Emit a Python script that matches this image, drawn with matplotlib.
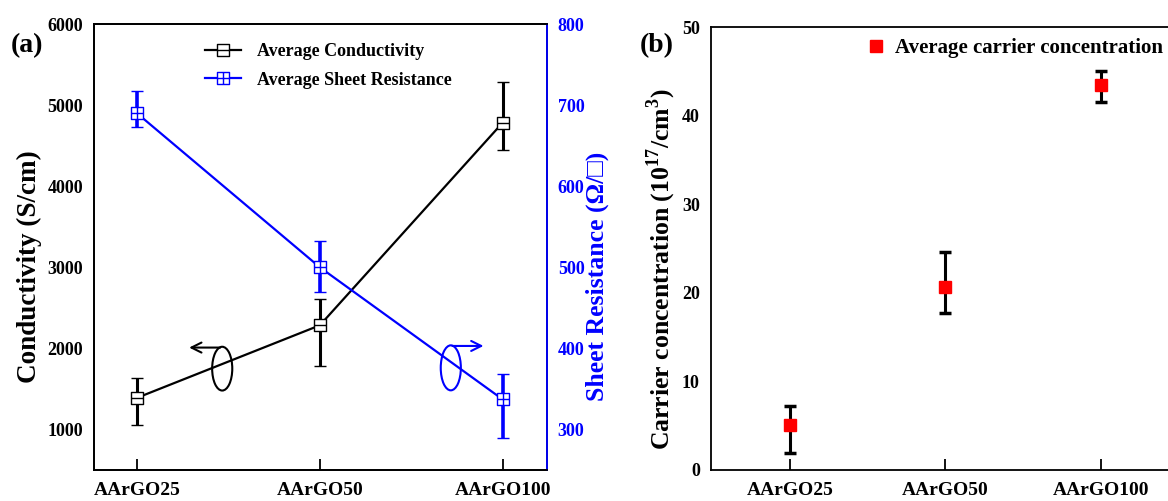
import matplotlib
matplotlib.use('Agg')
import matplotlib.pyplot as plt
from matplotlib.path import Path
from matplotlib.patches import Ellipse
from matplotlib.lines import Line2D

plt.rcParams['font.family'] = ['Liberation Serif', 'DejaVu Serif']
plt.rcParams['font.weight'] = 'bold'
plt.rcParams['mathtext.fontset'] = 'custom'
plt.rcParams['mathtext.rm'] = 'Liberation Serif:bold'
plt.rcParams['mathtext.bf'] = 'Liberation Serif:bold'

# Donnees
samples = ['AArGO25', 'AArGO50', 'AArGO100']
conductivity = [1390, 2285, 4785]
cond_upper = [1630, 2605, 5280]
cond_lower = [1060, 1785, 4450]
sheet_res = [690, 500, 337]
res_upper = [717, 533, 369]
res_lower = [673, 469, 290]
carrier = [5.1, 20.7, 43.5]
carrier_upper = [7.2, 24.6, 45.0]
carrier_lower = [1.9, 17.7, 41.6]

x = list(range(len(samples)))
blue = '#0000ff'

# marqueurs type Origin : carre avec trait / carre avec croix
sq_h = Path([(-1, -1), (1, -1), (1, 1), (-1, 1), (-1, -1), (-1, 0), (1, 0)],
            [Path.MOVETO, Path.LINETO, Path.LINETO, Path.LINETO, Path.CLOSEPOLY,
             Path.MOVETO, Path.LINETO])
sq_plus = Path([(-1, -1), (1, -1), (1, 1), (-1, 1), (-1, -1), (-1, 0), (1, 0), (0, -1), (0, 1)],
               [Path.MOVETO, Path.LINETO, Path.LINETO, Path.LINETO, Path.CLOSEPOLY,
                Path.MOVETO, Path.LINETO, Path.MOVETO, Path.LINETO])

fig = plt.figure(figsize=(11.68, 5.01), dpi=100)
ax1 = fig.add_axes([0.0805, 0.0619, 0.3875, 0.890])
ax2 = ax1.twinx()
ax3 = fig.add_axes([0.6087, 0.0619, 0.4016, 0.884])

# (a) conductivite
err_c = [[c - l for c, l in zip(conductivity, cond_lower)],
         [u - c for c, u in zip(conductivity, cond_upper)]]
ax1.errorbar(x, conductivity, yerr=err_c, color='black', lw=1.6, elinewidth=2.2,
             capsize=4, capthick=2.5, marker=sq_h, ms=8.5, mfc='white', mec='black',
             mew=1.0, zorder=3)
ax1.set_xlim(-0.235, 2.24)
ax1.set_ylim(500, 6000)
ax1.set_yticks([1000, 2000, 3000, 4000, 5000, 6000])
ax1.set_xticks(x)
ax1.set_xticklabels(samples)
ax1.set_ylabel('Conductivity (S/cm)', fontsize=19.5, fontweight='bold', va='center', ha='center')
ax1.yaxis.set_label_coords(-0.142, 0.457)

# (a) resistance carree
err_r = [[r - l for r, l in zip(sheet_res, res_lower)],
         [u - r for r, u in zip(sheet_res, res_upper)]]
ax2.errorbar(x, sheet_res, yerr=err_r, color=blue, lw=1.6, elinewidth=2.6,
             capsize=4, capthick=3, marker=sq_plus, ms=8.5, mfc='white', mec=blue,
             mew=1.0, zorder=3)
ax2.set_ylim(250, 800)
ax2.set_yticks([300, 400, 500, 600, 700, 800])
ax2.set_ylabel('Sheet Resistance (Ω/□)', fontsize=18.5, fontweight='bold', color=blue,
               rotation=90, va='center', ha='center')
ax2.yaxis.set_label_coords(1.112, 0.435)

for a in (ax1, ax2, ax3):
    for s in a.spines.values():
        s.set_linewidth(1.3)
ax2.spines['right'].set_color(blue)
ax1.tick_params(axis='y', length=0, labelsize=13, pad=8)
ax2.tick_params(axis='y', length=0, labelsize=13, pad=8, labelcolor=blue)
ax1.tick_params(axis='x', direction='in', length=8, width=1.3, labelsize=14, pad=9)

# fleches + ellipses
ax1.add_patch(Ellipse((0.466, 1750), 0.11, 540, fill=False, ec='black', lw=1.5, zorder=4))
ax1.annotate('', xy=(0.27, 2010), xytext=(0.47, 2010),
             arrowprops=dict(arrowstyle='->', color='black', lw=1.5, mutation_scale=18))
ax1.add_patch(Ellipse((1.716, 1760), 0.11, 555, fill=False, ec=blue, lw=1.5, zorder=4))
ax1.annotate('', xy=(1.91, 2030), xytext=(1.71, 2030),
             arrowprops=dict(arrowstyle='->', color=blue, lw=1.5, mutation_scale=18))

handles = [Line2D([], [], color='black', lw=1.6, marker=sq_h, ms=8.5, mfc='white', mec='black', mew=1.0),
           Line2D([], [], color=blue, lw=1.6, marker=sq_plus, ms=8.5, mfc='white', mec=blue, mew=1.0)]
ax1.legend(handles, ['Average Conductivity', 'Average Sheet Resistance'], loc='upper left',
           bbox_to_anchor=(0.245, 0.958), frameon=False, fontsize=13, handlelength=2.0,
           handletextpad=0.9, labelspacing=0.65, borderpad=0, borderaxespad=0)

fig.text(0.009, 0.895, '(a)', fontsize=20, fontweight='bold')

# (b) concentration de porteurs
err_n = [[n - l for n, l in zip(carrier, carrier_lower)],
         [u - n for n, u in zip(carrier, carrier_upper)]]
ax3.errorbar(x, carrier, yerr=err_n, fmt='none', ecolor='black', elinewidth=2.2,
             capsize=4, capthick=2.5, zorder=2)
ax3.plot(x, carrier, ls='none', marker='s', ms=8, color='red',
         label='Average carrier concentration', zorder=3)
ax3.set_xlim(-0.51, 2.51)
ax3.set_ylim(0, 50)
ax3.set_yticks([0, 10, 20, 30, 40, 50])
ax3.set_xticks(x)
ax3.set_xticklabels(samples)
ax3.tick_params(axis='y', length=0, labelsize=13, pad=8)
ax3.tick_params(axis='x', direction='in', length=8, width=1.3, labelsize=14, pad=9)
ax3.set_ylabel(r'Carrier concentration (10$^{17}$/cm$^{3}$)', fontsize=18.5, fontweight='bold',
               va='center', ha='center')
ax3.yaxis.set_label_coords(-0.105, 0.453)
ax3.legend(loc='upper left', bbox_to_anchor=(0.33, 0.975), frameon=False, fontsize=15,
           handlelength=1.0, handletextpad=0.4, borderpad=0, borderaxespad=0)

fig.text(0.548, 0.895, '(b)', fontsize=20, fontweight='bold')

fig.savefig('out.png', dpi=100)
